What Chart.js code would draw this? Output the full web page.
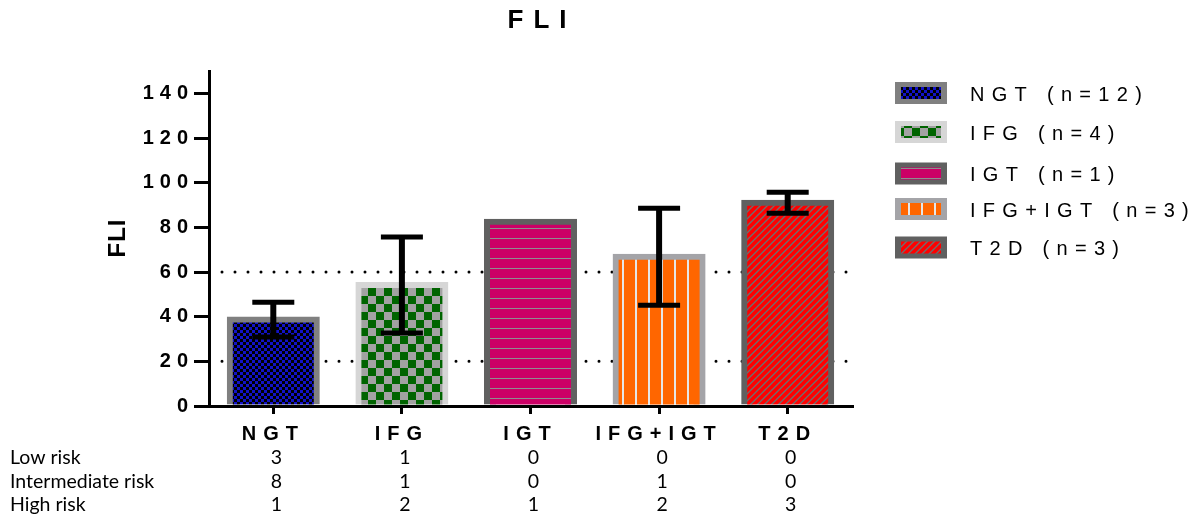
<!DOCTYPE html>
<html>
<head>
<meta charset="utf-8">
<title>FLI</title>
<script src="https://cdn.jsdelivr.net/npm/chart.js@4.4.1/dist/chart.umd.min.js"></script>
<style>
  html, body { margin: 0; padding: 0; background: #ffffff; }
  #c { display: block; }
</style>
</head>
<body>
<canvas id="c" width="1203" height="529"></canvas>
<script>
// ---- data ----
const groups = ['NGT', 'IFG', 'IGT', 'IFG+IGT', 'T2D'];
const groupSizes = [12, 4, 1, 3, 3];
const fliMean = [38.7, 54.2, 82.5, 66.8, 91.0];
const fliSD = [7.8, 21.5, 0, 21.7, 4.7];
const yTickValues = [0, 20, 40, 60, 80, 100, 120, 140];
const cutoffs = [20, 60];
const riskLevels = ['Low risk', 'Intermediate risk', 'High risk'];
const lowRisk = [3, 1, 0, 0, 0];
const intermediateRisk = [8, 1, 0, 1, 0];
const highRisk = [1, 2, 1, 2, 3];
const riskCounts = [lowRisk, intermediateRisk, highRisk];

// legend row centres (px)
const legendRows = [93, 132, 173.5, 209, 247.5];

// ---- fill patterns ----
const SANS = "'Liberation Sans', Arial, sans-serif";
const patternCtx = document.createElement('canvas').getContext('2d');
function makePattern(w, h, paint) {
  const c = document.createElement('canvas');
  c.width = w; c.height = h;
  paint(c.getContext('2d'), w, h);
  return patternCtx.createPattern(c, 'repeat');
}
const fills = [
  // blue / black fine checker
  makePattern(6, 6, (g) => {
    g.fillStyle = '#000000'; g.fillRect(0, 0, 6, 6);
    g.fillStyle = '#1212c8'; g.fillRect(0, 0, 3, 3); g.fillRect(3, 3, 3, 3);
  }),
  // green / grey checker
  makePattern(16, 16, (g) => {
    g.fillStyle = '#a2a2a2'; g.fillRect(0, 0, 16, 16);
    g.fillStyle = '#006400'; g.fillRect(0, 0, 8, 8); g.fillRect(8, 8, 8, 8);
  }),
  // magenta with horizontal grey rules
  makePattern(10, 10, (g) => {
    g.fillStyle = '#cc0066'; g.fillRect(0, 0, 10, 10);
    g.fillStyle = '#8e8e8e'; g.fillRect(0, 8, 10, 1);
  }),
  // orange with vertical light rules
  makePattern(13, 10, (g) => {
    g.fillStyle = '#ff6600'; g.fillRect(0, 0, 13, 10);
    g.fillStyle = '#e6e6e6'; g.fillRect(11, 0, 2, 10);
  }),
  // red with grey diagonal hatching
  makePattern(7, 7, (g) => {
    g.fillStyle = '#ff0000'; g.fillRect(0, 0, 7, 7);
    g.strokeStyle = '#6e6e6e'; g.lineWidth = 1.4;
    g.beginPath();
    g.moveTo(-1, 1); g.lineTo(1, -1);
    g.moveTo(0, 7); g.lineTo(7, 0);
    g.moveTo(6, 8); g.lineTo(8, 6);
    g.stroke();
  })
];
const borders = ['#808080', '#d6d6d6', '#606060', '#a4a4a8', '#606060'];

// text with letter spacing, trailing spacing removed from alignment
function spacedText(ctx, text, x, y, font, spacing, align) {
  ctx.save();
  ctx.font = font;
  ctx.letterSpacing = spacing + 'px';
  ctx.textBaseline = 'middle';
  ctx.textAlign = 'left';
  const w = ctx.measureText(text).width - spacing;
  let sx = x;
  if (align === 'center') sx = x - w / 2;
  else if (align === 'right') sx = x - w;
  ctx.fillStyle = '#000000';
  ctx.fillText(text, sx, y);
  ctx.restore();
}

// cutoff lines behind the bars, error bars above them
const overlays = {
  id: 'overlays',
  beforeDraw(chart) {
    chart.ctx.letterSpacing = '6px';   // y tick labels
  },
  beforeDatasetsDraw(chart) {
    const { ctx, chartArea, scales: { y } } = chart;
    ctx.save();
    ctx.strokeStyle = '#000000';
    ctx.lineWidth = 3;
    ctx.lineCap = 'round';
    ctx.setLineDash([0, 13]);
    cutoffs.forEach((v) => {
      const py = y.getPixelForValue(v);
      ctx.beginPath();
      ctx.moveTo(chartArea.left + 13, py);
      ctx.lineTo(chartArea.right, py);
      ctx.stroke();
    });
    ctx.restore();
  },
  afterDatasetsDraw(chart) {
    const { ctx, scales: { y } } = chart;
    const bars = chart.getDatasetMeta(0).data;
    ctx.save();
    ctx.strokeStyle = '#000000';
    ctx.lineCap = 'butt';
    bars.forEach((bar, i) => {
      if (!fliSD[i]) return;
      const top = y.getPixelForValue(fliMean[i] + fliSD[i]);
      const bot = y.getPixelForValue(fliMean[i] - fliSD[i]);
      ctx.lineWidth = 6;
      ctx.beginPath();
      ctx.moveTo(bar.x, top); ctx.lineTo(bar.x, bot);
      ctx.stroke();
      ctx.lineWidth = 5;
      ctx.beginPath();
      ctx.moveTo(bar.x - 21, top); ctx.lineTo(bar.x + 21, top);
      ctx.moveTo(bar.x - 21, bot); ctx.lineTo(bar.x + 21, bot);
      ctx.stroke();
    });
    ctx.restore();
    ctx.letterSpacing = '7px';   // x category labels, drawn next
  },
  afterDraw(chart) {
    const { ctx, chartArea, scales: { x } } = chart;
    ctx.letterSpacing = '0px';
    // chart title
    spacedText(ctx, 'FLI', 537, 21, `bold 26px ${SANS}`, 10, 'center');
    // y axis title
    ctx.save();
    ctx.translate(118, (chartArea.top + chartArea.bottom) / 2);
    ctx.rotate(-Math.PI / 2);
    spacedText(ctx, 'FLI', 0, 0, `bold 24px ${SANS}`, 1, 'center');
    ctx.restore();
    // legend
    groups.forEach((g, i) => {
      const cy = legendRows[i];
      ctx.save();
      ctx.fillStyle = borders[i];
      ctx.fillRect(895, cy - 11, 52, 22);
      ctx.fillStyle = fills[i];
      ctx.fillRect(901, cy - 6, 40, 12);
      ctx.restore();
      spacedText(ctx, `${g} (n=${groupSizes[i]})`, 970, cy + 2, `20px ${SANS}`, 7.3, 'left');
    });
    // risk category table
    ctx.save();
    ctx.font = "19.5px Lato, 'Noto Sans', sans-serif";
    ctx.fillStyle = '#000000';
    ctx.textBaseline = 'middle';
    riskLevels.forEach((label, r) => {
      const ry = 458 + r * 23.5;
      ctx.textAlign = 'left';
      ctx.fillText(label, 10, ry);
      ctx.textAlign = 'center';
      riskCounts[r].forEach((n, i) => {
        ctx.fillText(String(n), x.getPixelForValue(i) + 3, ry);
      });
    });
    ctx.restore();
  }
};

new Chart(document.getElementById('c'), {
  type: 'bar',
  data: {
    labels: groups,
    datasets: [{
      data: fliMean,
      backgroundColor: fills,
      borderColor: borders,
      borderWidth: 6,
      borderSkipped: 'start',
      inflateAmount: 3,
      barPercentage: 0.6765,
      categoryPercentage: 1,
      clip: { left: false, right: false, top: false, bottom: 0 }
    }]
  },
  options: {
    responsive: false,
    animation: false,
    events: [],
    devicePixelRatio: 1,
    layout: { padding: { left: 0, top: 71, right: 351, bottom: 83 } },
    plugins: {
      legend: { display: false },
      title: { display: false },
      tooltip: { enabled: false }
    },
    scales: {
      x: {
        type: 'category',
        offset: true,
        grid: {
          offset: false,
          drawOnChartArea: false,
          drawTicks: true,
          tickLength: 8,
          lineWidth: 3,
          color: '#000000'
        },
        border: { display: true, width: 3, color: '#000000', z: 1 },
        ticks: {
          z: 1,
          color: '#000000',
          font: { family: SANS, size: 20, weight: 'bold' },
          padding: 8,
          maxRotation: 0,
          minRotation: 0,
          autoSkip: false
        },
        afterFit(scale) { scale.height = 40; }
      },
      y: {
        min: 0,
        max: 150,
        grid: {
          drawOnChartArea: false,
          drawTicks: true,
          tickLength: 15,
          lineWidth: 3,
          color: '#000000'
        },
        border: { display: true, width: 3, color: '#000000' },
        ticks: {
          stepSize: 20,
          color: '#000000',
          font: { family: SANS, size: 20, weight: 'bold' },
          padding: 0
        },
        afterBuildTicks(scale) {
          scale.ticks = yTickValues.map((v) => ({ value: v }));
        },
        afterFit(scale) { scale.width = 209; }
      }
    }
  },
  plugins: [overlays]
});
</script>
</body>
</html>
